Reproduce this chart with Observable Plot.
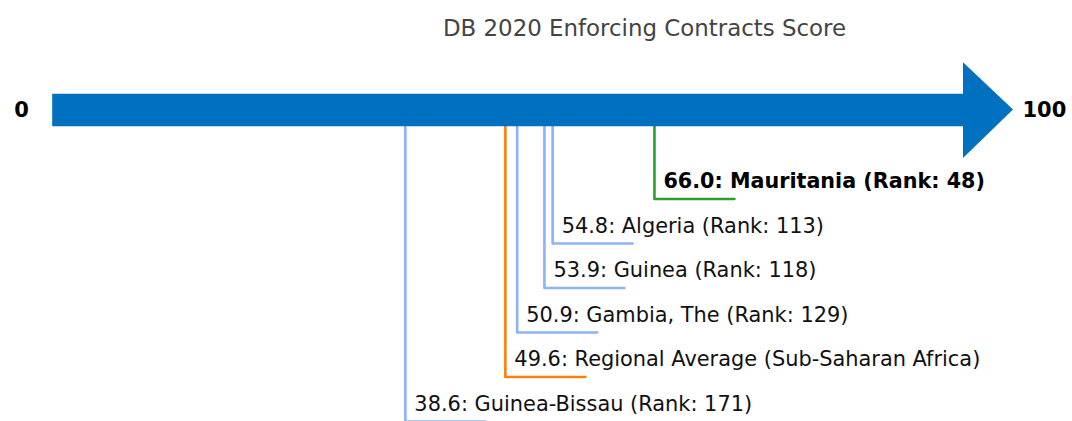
<!DOCTYPE html>
<html>
<head>
<meta charset="utf-8">
<script src="https://cdn.jsdelivr.net/npm/d3@7"></script>
<script src="https://cdn.jsdelivr.net/npm/@observablehq/plot@0.6"></script>
<style>
  html, body { margin: 0; padding: 0; background: #fff; }
  #chart svg { display: block; }
</style>
</head>
<body>
<div id="chart"></div>
<script>
// ---- data ----
const title = "DB 2020 Enforcing Contracts Score";
const names  = ["Mauritania", "Algeria", "Guinea", "Gambia, The", "Regional Average (Sub-Saharan Africa)", "Guinea-Bissau"];
const scores = [66.0, 54.8, 53.9, 50.9, 49.6, 38.6];
const ranks  = [48, 113, 118, 129, null, 171];
const kinds  = ["focus", "peer", "peer", "peer", "region", "peer"];
const scaleMin = 0, scaleMax = 100;

const colorOf = {focus: "#2ca02c", peer: "#8ab4f8", region: "#ff7f0e"};
const arrowColor = "#0070c0";
const underlineLen = 8.8; // in score units

const rows = names.map((n, i) => ({
  name: n, score: scores[i], rank: ranks[i], kind: kinds[i], level: i + 1,
  label: `${scores[i].toFixed(1)}: ${n}` + (ranks[i] != null ? ` (Rank: ${ranks[i]})` : "")
}));

// connector polylines: from arrow down to level, then right
const connectors = rows.flatMap(r => [
  {id: r.name, kind: r.kind, x: r.score, y: -1},
  {id: r.name, kind: r.kind, x: r.score, y: r.level},
  {id: r.name, kind: r.kind, x: r.score + underlineLen, y: r.level}
]);

const head = [
  {x: scaleMax, lo: -2.06, hi: 0.09},
  {x: scaleMax + 5.5, lo: -1, hi: -1}
];

const font = "DejaVu Sans, sans-serif";

const chart = Plot.plot({
  width: 1072,
  height: 421,
  margin: 0,
  style: {fontFamily: font, background: "#fff"},
  x: {domain: [scaleMin, scaleMax], range: [54, 963], axis: null},
  y: {domain: [-1, 6], range: [109.5, 421], axis: null},
  marks: [
    Plot.line(connectors, {x: "x", y: "y", z: "id", stroke: d => colorOf[d.kind], strokeWidth: 2.6, curve: "linear"}),
    Plot.ruleY([-1], {x1: scaleMin - 0.2, x2: scaleMax, stroke: arrowColor, strokeWidth: 32.5}),
    Plot.areaY(head, {x: "x", y1: "lo", y2: "hi", fill: arrowColor}),
    Plot.text([scaleMin], {x: d => d, y: -1, text: d => String(d), textAnchor: "middle", lineAnchor: "middle", dx: -33, fontSize: 21, fontWeight: "bold", fill: "#000"}),
    Plot.text([scaleMax], {x: d => d, y: -1, text: d => String(d), textAnchor: "start", lineAnchor: "middle", dx: 59, fontSize: 21, fontWeight: "bold", fill: "#000"}),
    Plot.text(rows.filter(r => r.kind !== "focus"), {x: "score", y: "level", text: "label", textAnchor: "start", lineAnchor: "bottom", dx: 9, dy: -11, fontSize: 20.9, fill: "#111"}),
    Plot.text(rows.filter(r => r.kind === "focus"), {x: "score", y: "level", text: "label", textAnchor: "start", lineAnchor: "bottom", dx: 9, dy: -11, fontSize: 20.7, fontWeight: "bold", fill: "#000"}),
    Plot.text([title], {frameAnchor: "top", text: d => d, lineAnchor: "top", dx: 108, dy: 19, fontSize: 22.9, fill: "#444"})
  ]
});

document.getElementById("chart").appendChild(chart);
</script>
</body>
</html>
